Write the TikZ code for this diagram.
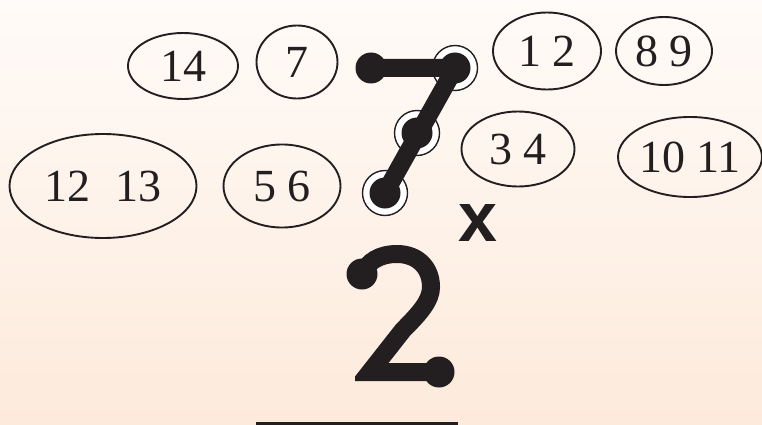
\documentclass[tikz,border=0pt]{standalone}
\usepackage{fontspec}
\setmainfont{Liberation Serif}
\newfontfamily\sansx{Liberation Sans}
\usetikzlibrary{shapes.geometric}
\definecolor{ink}{HTML}{231F20}
\definecolor{paperTop}{RGB}{255,251,248}
\definecolor{paperBot}{RGB}{253,234,219}

\begin{document}
\begin{tikzpicture}[x=1pt,y=-1pt,line cap=round,
    oval/.style={ellipse,draw=ink,line width=1.9pt,inner sep=0pt,text=ink,font=\fontsize{46}{46}\selectfont},
    ring/.style={draw=ink,fill=white,line width=1.4pt},
    digitline/.style={draw=ink,line width=18pt},
    dot/.style={circle,fill=ink,inner sep=0pt,minimum size=#1},
    dot/.default=31pt]
    \useasboundingbox (0,0) rectangle (762,425);
    \shade[top color=paperTop,bottom color=paperBot] (0,0) rectangle (762,425);
    \clip (0,0) rectangle (762,425);
    % ovals with the numbers
    \foreach \name/\pos/\w/\h/\txt in {
        o14/{183,66}/110/66/14, o7/{297,62}/81/73/7,
        o1213/{103,186}/187/104/{12\hspace{.55em}13}, o56/{282,186}/117/83/{5 6},
        o12/{547,51}/108/77/{1 2}, o89/{664,51}/96/68/{8 9},
        o34/{518,149}/113/75/{3 4}, o1011/{690,157}/144/80/{10 11}}{
        \node[oval,minimum width=\w pt,minimum height=\h pt] (\name) at (\pos) {\txt};
    }
    % the seven
    \coordinate (s1) at (371,68);
    \coordinate (s2) at (455,68);
    \coordinate (s3) at (417,133);
    \coordinate (s4) at (385,193);
    \foreach \c in {s2,s3,s4}
        \draw[ring] (\c) circle[radius=22.5pt];
    \draw[digitline,line join=round] (s1) -- (s2) -- (s4);
    \foreach \c in {s1,s2,s3,s4}
        \node[dot] (d\c) at (\c) {};
    % the two
    \coordinate (t1) at (362,274);
    \coordinate (t2) at (439,372);
    \begin{scope}
        \clip (355,230) rectangle (470,400);
        \draw[digitline,line cap=butt,line join=miter] (t1)
            .. controls (368,261) and (380,254) .. (397,254)
            .. controls (418,254) and (431,268) .. (431,287)
            .. controls (431,300) and (421,312) .. (403,330)
            -- (370,372) -- (t2);
    \end{scope}
    \node[dot] (dt1) at (t1) {};
    \node[dot] (dt2) at (t2) {};
    \node[text=ink,font=\sansx\bfseries\fontsize{70}{70}\selectfont,inner sep=0pt] (times) at (478,223) {x};
    \draw[ink,line width=6pt,line cap=butt] (256,425) -- (458,425);
\end{tikzpicture}
\end{document}
